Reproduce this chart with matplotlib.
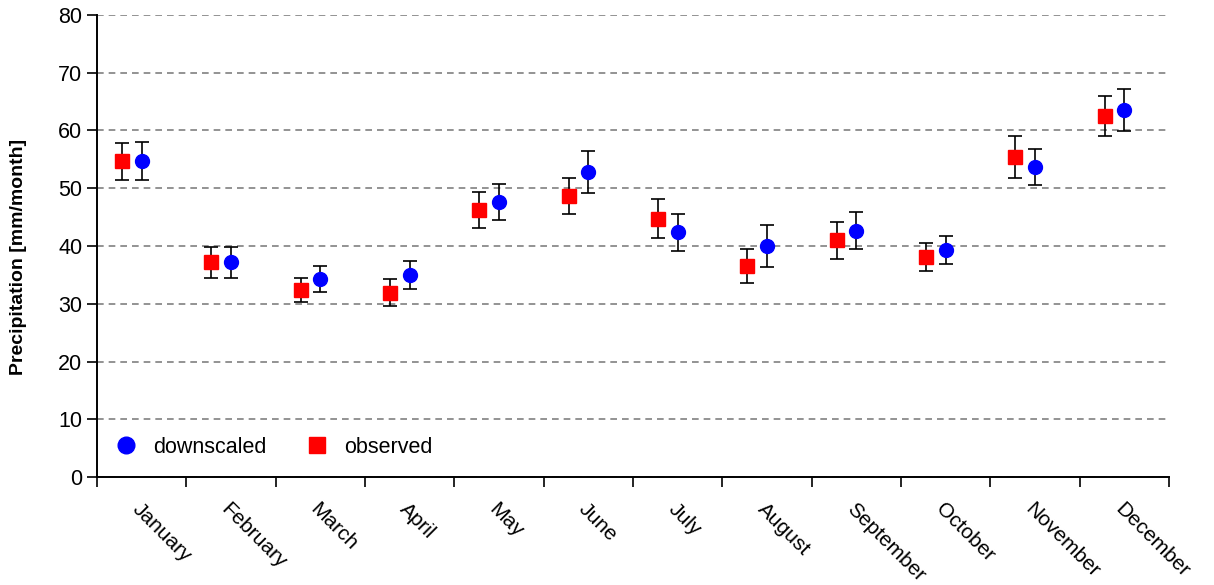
import numpy as np
import matplotlib.pyplot as plt

plt.rcParams['font.family'] = ['Liberation Sans', 'DejaVu Sans']

months = ['January', 'February', 'March', 'April', 'May', 'June', 'July',
          'August', 'September', 'October', 'November', 'December']

# valores
observed = [54.7, 37.2, 32.4, 31.9, 46.2, 48.7, 44.7, 36.5, 41.0, 38.1, 55.4, 62.5]
observed_err = [3.2, 2.7, 2.1, 2.3, 3.1, 3.1, 3.4, 2.9, 3.2, 2.5, 3.6, 3.5]
downscaled = [54.7, 37.2, 34.3, 35.0, 47.6, 52.8, 42.4, 40.0, 42.6, 39.3, 53.7, 63.5]
downscaled_err = [3.3, 2.7, 2.2, 2.4, 3.1, 3.7, 3.2, 3.6, 3.2, 2.5, 3.1, 3.6]

x = np.arange(len(months))

fig = plt.figure(figsize=(12.14, 5.85), dpi=100)
ax = fig.add_axes([0.0799, 0.1846, 0.8831, 0.7898])

ax.errorbar(x, downscaled, yerr=downscaled_err, fmt='o', color='blue', ms=10,
            ecolor='black', elinewidth=1.2, capsize=5, capthick=1.2,
            label='downscaled', zorder=3)
ax.errorbar(x - 0.22, observed, yerr=observed_err, fmt='s', color='red', ms=9.5,
            ecolor='black', elinewidth=1.2, capsize=5, capthick=1.2,
            label='observed', zorder=3)

ax.set_xlim(-0.5, 11.5)
ax.set_ylim(0, 80)
ax.set_yticks(range(0, 81, 10))
ax.set_xticks(np.arange(-0.5, 12, 1))
ax.set_xticklabels([])
ax.set_xticks(x, minor=True)
ax.set_xticklabels(months, minor=True, rotation=-45, ha='left', va='top',
                   rotation_mode='anchor', fontsize=15)
ax.tick_params(axis='x', which='minor', length=0, pad=16)
ax.tick_params(axis='both', which='major', direction='out', length=7, width=1.2,
               labelsize=15.5)

ax.yaxis.grid(True, linestyle=(0, (4, 3)), color='gray', linewidth=1.2)
ax.set_axisbelow(True)
for s in ['top', 'right']:
    ax.spines[s].set_visible(False)
for s in ['left', 'bottom']:
    ax.spines[s].set_linewidth(1.4)

ax.set_ylabel('Precipitation [mm/month]', fontsize=14, fontweight='bold')
ax.yaxis.set_label_coords(-0.065, 0.476)

h, l = ax.get_legend_handles_labels()
h = [hh[0] for hh in h]
ax.legend(h, l, loc='lower left', ncol=2, frameon=False, fontsize=15.5,
          bbox_to_anchor=(-0.006, 0.0), handletextpad=0.5, columnspacing=1.6,
          handlelength=1.5, markerscale=1.2)

fig.savefig('out.png', dpi=100)
